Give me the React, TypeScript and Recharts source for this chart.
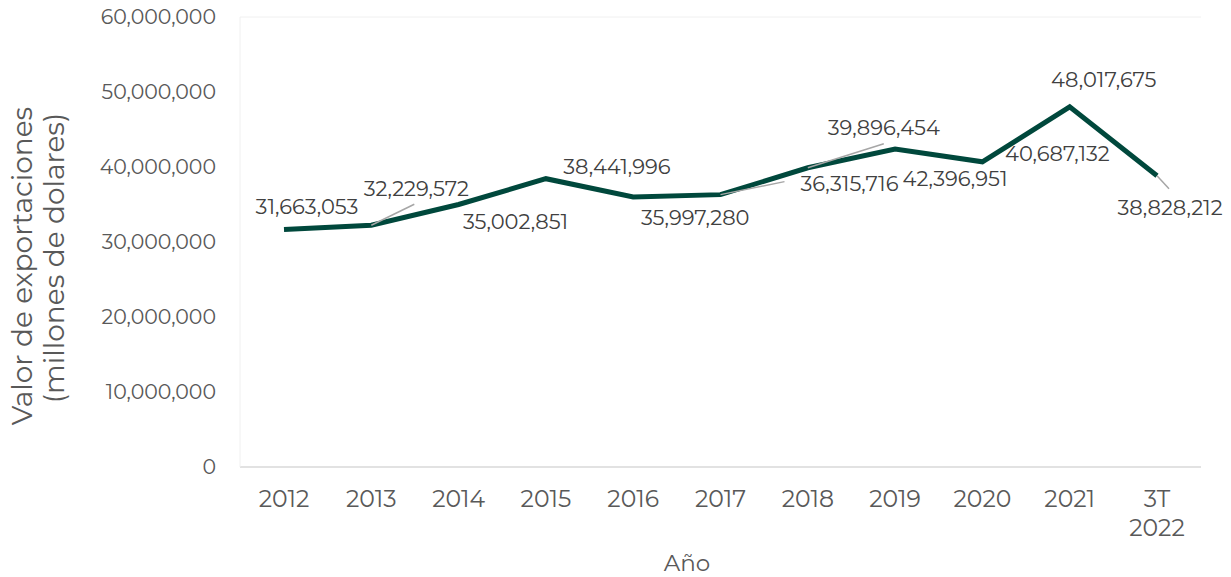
import { LineChart, Line, XAxis, YAxis, LabelList, ReferenceLine } from 'recharts'

const categories = ['2012', '2013', '2014', '2015', '2016', '2017', '2018', '2019', '2020', '2021', '3T 2022']
const exportValues = [
    31663053, 32229572, 35002851, 38441996, 35997280, 36315716,
    39896454, 42396951, 40687132, 48017675, 38828212,
]
const yTicks = [0, 10000000, 20000000, 30000000, 40000000, 50000000, 60000000]

// where each data label sits relative to its point, and its leader line if any
const labelOffsets = [
    { dx: 23, dy: -23 },
    { dx: 45, dy: -37, lx: 43, ly: -21 },
    { dx: 57, dy: 17 },
    { dx: 71, dy: -12 },
    { dx: 62, dy: 20 },
    { dx: 129, dy: -11, lx: 64, ly: -13 },
    { dx: 76, dy: -40, lx: 76, ly: -24 },
    { dx: 60, dy: 29 },
    { dx: 75, dy: -8 },
    { dx: 34, dy: -27 },
    { dx: 13, dy: 32, lx: 12, ly: 13 },
]

const font = 'Montserrat, "DejaVu Sans", sans-serif'
const fmt = (v: number) => v.toLocaleString('en-US')

const chartData = categories.map((c, i) => ({ year: c, value: exportValues[i] }))

const ValueLabel = (props: any) => {
    const { x, y, index, value } = props
    const o: any = labelOffsets[index]
    return (
        <g>
            {o.lx !== undefined && (
                <line x1={x} y1={y} x2={x + o.lx} y2={y + o.ly} stroke="#a6a6a6" strokeWidth={1.5} />
            )}
            <text x={x + o.dx} y={y + o.dy} textAnchor="middle" dominantBaseline="central"
                fill="#404040" fontSize={21} fontFamily={font}>
                {fmt(value)}
            </text>
        </g>
    )
}

const YearTick = (props: any) => {
    const { x, y, payload } = props
    const parts = String(payload.value).split(' ')
    return (
        <text x={x} y={y + 32} textAnchor="middle" fill="#595959" fontSize={23.5} fontFamily={font}>
            {parts.map((p, i) => (
                <tspan key={i} x={x} dy={i === 0 ? 0 : 29}>{p}</tspan>
            ))}
        </text>
    )
}

const YTitle = () => (
    <g fill="#595959" fontSize={28} fontFamily={font}>
        <text transform="translate(32,266) rotate(-90)" textAnchor="middle">Valor de exportaciones</text>
        <text transform="translate(64,258) rotate(-90)" textAnchor="middle">(millones de dolares)</text>
    </g>
)

const XTitle = () => (
    <text x={687} y={571} textAnchor="middle" fill="#595959" fontSize={23} fontFamily={font}>Año</text>
)

export default function App() {
    return (
        <div style={{ position: 'absolute', left: 0, top: 0, background: '#fff' }}>
            <LineChart width={1231} height={577} data={chartData}
                margin={{ top: 17, right: 30, left: 0, bottom: 0 }}>
                <XAxis dataKey="year" height={110} padding={{ left: 44, right: 44 }}
                    axisLine={{ stroke: '#d9d9d9', strokeWidth: 1.5 }} tickLine={false}
                    tick={<YearTick />} interval={0} label={<XTitle />} />
                <YAxis width={240} domain={[0, 60000000]} ticks={yTicks} tickFormatter={fmt}
                    axisLine={{ stroke: '#f0f0f0' }} tickLine={false} tickMargin={18}
                    tick={{ fill: '#595959', fontSize: 20.5, fontFamily: font }} label={<YTitle />} />
                <YAxis yAxisId="edge" orientation="right" width={0} tick={false} tickLine={false}
                    axisLine={{ stroke: '#f0f0f0' }} />
                <ReferenceLine y={60000000} stroke="#f0f0f0" />
                <Line type="linear" dataKey="value" stroke="#00483c" strokeWidth={5}
                    dot={false} activeDot={false} isAnimationActive={false}>
                    <LabelList dataKey="value" content={<ValueLabel />} />
                </Line>
            </LineChart>
        </div>
    )
}
